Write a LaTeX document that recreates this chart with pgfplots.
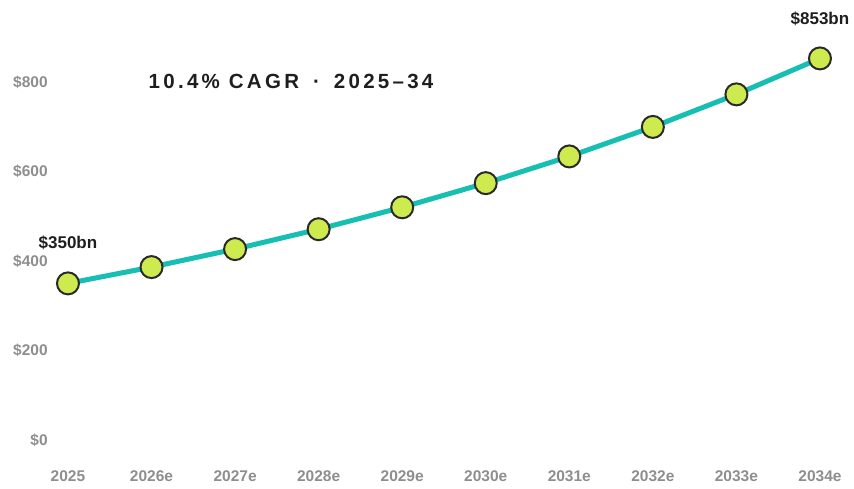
\documentclass[border=0pt]{standalone}
\usepackage{fontspec}
\setmainfont{Liberation Sans}
\usepackage{pgfplots}
\pgfplotsset{compat=1.18}
\definecolor{lineC}{HTML}{17BEB2}
\definecolor{markC}{HTML}{CDEA4E}
\definecolor{edgeC}{HTML}{2A2A2A}
\definecolor{tickC}{HTML}{8E8E8E}
\definecolor{textC}{HTML}{1E1E1E}
\begin{document}
\begin{tikzpicture}
\useasboundingbox (-42.9pt,-30.1pt) rectangle (811.1pt,457.9pt);
\begin{axis}[
  scale only axis, width=810.5pt, height=447.5pt,
  xmin=-0.3, xmax=9.4, ymin=-40, ymax=960,
  axis line style={draw=none}, tick style={draw=none},
  clip=false,
  xtick={0,1,2,3,4,5,6,7,8,9},
  xticklabels={2025,2026e,2027e,2028e,2029e,2030e,2031e,2032e,2033e,2034e},
  ytick={0,200,400,600,800},
  yticklabels={\$0,\$200,\$400,\$600,\$800},
  ticklabel style={font=\fontsize{15.5}{18}\selectfont\bfseries, text=tickC},
  yticklabel style={anchor=east, inner sep=0pt, xshift=5pt},
  xticklabel style={anchor=north, inner sep=0pt, yshift=-13pt},
]
\addplot[color=lineC, line width=5pt, mark=*, mark size=11pt,
  mark options={fill=markC, draw=edgeC, line width=2pt}]
  coordinates {(0,350) (1,386.4) (2,426.6) (3,471.0) (4,520.0) (5,574.0) (6,633.7) (7,699.6) (8,772.4) (9,852.7)};
\node[font=\fontsize{17}{20}\selectfont\bfseries, text=textC, yshift=41pt] at (axis cs:0,350) {\$350bn};
\node[font=\fontsize{17}{20}\selectfont\bfseries, text=textC, yshift=40pt] at (axis cs:9,852.7) {\$853bn};
\node[font=\fontsize{20.5}{24}\selectfont\bfseries\addfontfeature{LetterSpace=16}, text=textC] at (axis cs:2.67,801) {10.4\% CAGR\hspace{14pt}·\hspace{14pt}2025–34};
\end{axis}
\end{tikzpicture}
\end{document}
